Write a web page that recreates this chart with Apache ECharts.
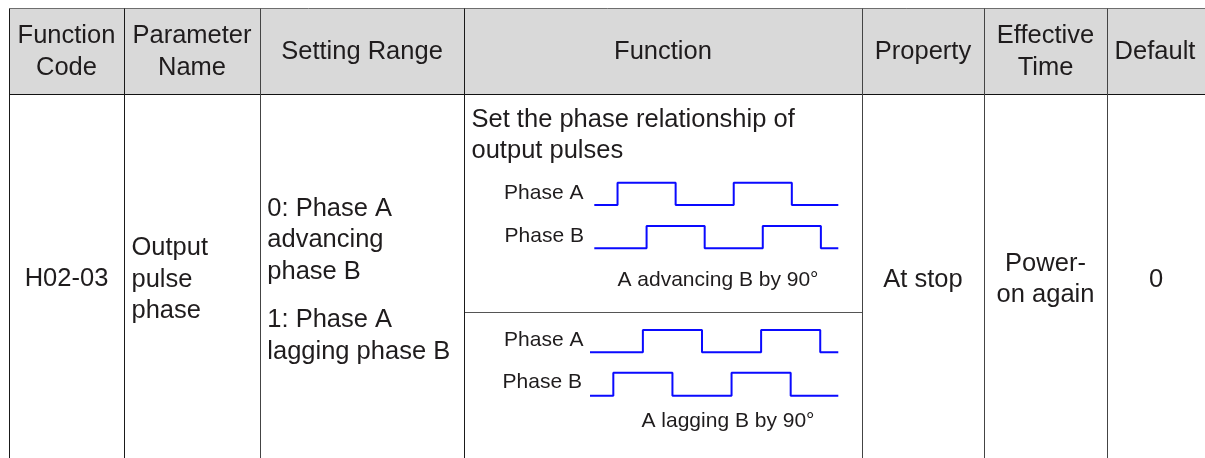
<!DOCTYPE html>
<html>
<head>
<meta charset="utf-8">
<script src="https://cdn.jsdelivr.net/npm/echarts@6/dist/echarts.min.js"></script>
<style>
  html, body { margin: 0; padding: 0; background: #ffffff; }
  #chart { width: 1205px; height: 458px; }
</style>
</head>
<body>
<div id="chart"></div>
<script>
// ---------- data ----------
const headers = ['Function\nCode', 'Parameter\nName', 'Setting Range', 'Function', 'Property', 'Effective\nTime', 'Default'];
const rowCode = 'H02-03';
const rowName = 'Output\npulse\nphase';
const rangeOption0 = '0: Phase A\nadvancing\nphase B';
const rangeOption1 = '1: Phase A\nlagging phase B';
const functionText = 'Set the phase relationship of\noutput pulses';
const rowProperty = 'At stop';
const rowEffective = 'Power-\non again';
const rowDefault = '0';
const waveLabels = ['Phase A', 'Phase B'];
const waveCaptions = ['A advancing B by 90°', 'A lagging B by 90°'];
// pulse trains: [phase angle (deg), level], level held until the next point
const advancingA = [[-72, 0], [0, 1], [180, 0], [360, 1], [540, 0], [684, 0]];
const advancingB = [[-72, 0], [90, 1], [270, 0], [450, 1], [630, 0], [684, 0]];
const laggingA   = [[-71, 0], [90, 1], [270, 0], [450, 1], [630, 0], [685, 0]];
const laggingB   = [[-71, 0], [0, 1], [180, 0], [360, 1], [540, 0], [685, 0]];

// ---------- layout ----------
const FONT = '"Liberation Sans", Arial, Helvetica, sans-serif';
const TXT = '#1f1c1d';
const colX = [9.5, 124.5, 260.5, 464.5, 862.5, 984.5, 1107.5, 1206];
const tableTop = 8.5, headBottom = 94.5, tableBottom = 470, splitY = 312.5;
const headCenterX = [66.5, 192, 362, 663, 923, 1045.5, 1155];
const BIG = 25.5, SMALL = 21;

const g = [];
g.push({ type: 'rect', shape: { x: colX[0], y: tableTop, width: 1206 - colX[0], height: headBottom - tableTop },
  style: { fill: '#d9d9d9' }, silent: true });
g.push({ type: 'line', shape: { x1: colX[0], y1: tableTop, x2: 1206, y2: tableTop }, style: { stroke: '#6e6e6e', lineWidth: 1 } });
g.push({ type: 'line', shape: { x1: colX[0], y1: headBottom, x2: 1206, y2: headBottom }, style: { stroke: '#111', lineWidth: 1.2 } });
g.push({ type: 'line', shape: { x1: colX[3], y1: splitY, x2: colX[4], y2: splitY }, style: { stroke: '#555', lineWidth: 1 } });
for (let i = 0; i < 7; i++) {
  g.push({ type: 'line', shape: { x1: colX[i], y1: tableTop, x2: colX[i], y2: tableBottom },
    style: { stroke: (i === 0 || i === 1 || i === 3) ? '#1a1a1a' : '#444', lineWidth: 1 } });
}
function txt(text, x, y, size, align, lh) {
  return { type: 'text', z: 10, style: { text: text, x: x, y: y, fill: TXT, fontSize: size, fontFamily: FONT,
    align: align, verticalAlign: 'middle', lineHeight: lh || Math.round(size * 1.26) } };
}
headers.forEach((h, i) => g.push(txt(h, headCenterX[i], 52, BIG, 'center', 31.5)));
g.push(txt(rowCode, 66.5, 279.3, BIG, 'center'));
g.push(txt(rowName, 131.5, 279.5, BIG, 'left', 31.6));
g.push(txt(rangeOption0, 267.3, 240.2, BIG, 'left', 31.4));
g.push(txt(rangeOption1, 267.3, 335.7, BIG, 'left', 31.6));
g.push(txt(functionText, 471.5, 135.2, BIG, 'left', 30.7));
g.push(txt(rowProperty, 923, 279.7, BIG, 'center'));
g.push(txt(rowEffective, 1045.5, 279.4, BIG, 'center', 30.6));
g.push(txt(rowDefault, 1156, 279.7, BIG, 'center'));
g.push(txt(waveLabels[0], 583.5, 193.3, SMALL, 'right'));
g.push(txt(waveLabels[1], 584, 236, SMALL, 'right'));
g.push(txt(waveCaptions[0], 718, 280.3, SMALL, 'center'));
g.push(txt(waveLabels[0], 583.5, 340.3, SMALL, 'right'));
g.push(txt(waveLabels[1], 582, 382.6, SMALL, 'right'));
g.push(txt(waveCaptions[1], 728, 421, SMALL, 'center'));

const grids = [
  { left: 594.3, top: 182.7, width: 244, height: 22.3 },
  { left: 594.3, top: 226, width: 244, height: 22.3 },
  { left: 590, top: 330, width: 248.3, height: 22.3 },
  { left: 590, top: 372.7, width: 248.3, height: 23 }
];
const ranges = [[-72, 684], [-72, 684], [-71, 685], [-71, 685]];
const waves = [advancingA, advancingB, laggingA, laggingB];

const chart = echarts.init(document.getElementById('chart'), null, { renderer: 'canvas' });
chart.setOption({
  backgroundColor: '#ffffff',
  animation: false,
  grid: grids.map(r => Object.assign({ containLabel: false }, r)),
  xAxis: ranges.map((r, i) => ({ type: 'value', gridIndex: i, min: r[0], max: r[1], show: false })),
  yAxis: grids.map((r, i) => ({ type: 'value', gridIndex: i, min: 0, max: 1, show: false })),
  series: waves.map((w, i) => ({
    type: 'line', xAxisIndex: i, yAxisIndex: i, data: w, step: 'end', symbol: 'none', clip: false,
    lineStyle: { color: '#0a0aff', width: 2 }, silent: true
  })),
  graphic: g
});
</script>
</body>
</html>
